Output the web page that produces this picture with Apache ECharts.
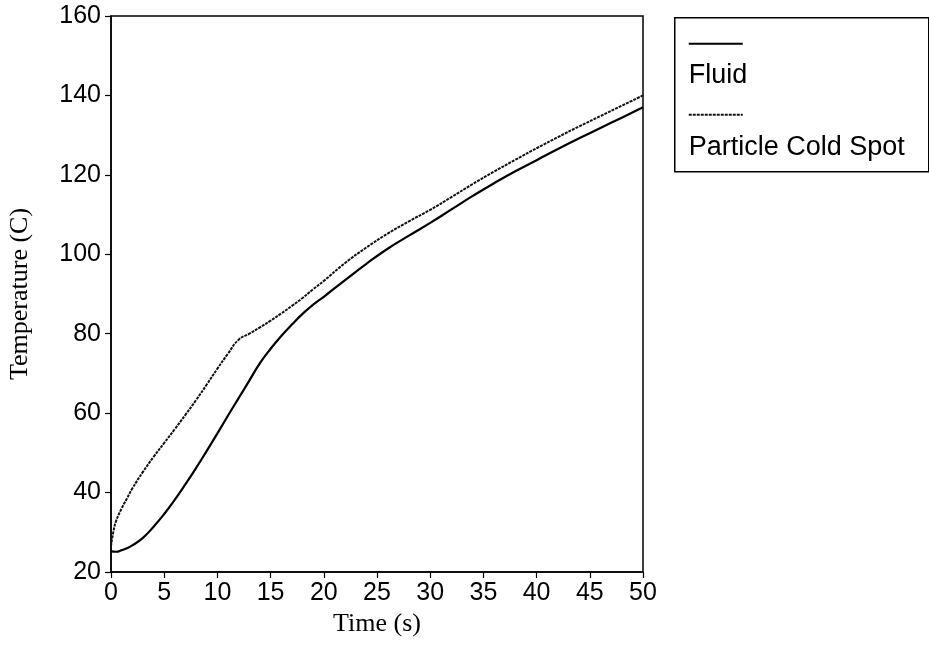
<!DOCTYPE html>
<html>
<head>
<meta charset="utf-8">
<script src="https://cdn.jsdelivr.net/npm/echarts@6/dist/echarts.min.js"></script>
<style>
  html, body { margin: 0; padding: 0; background: #fff; }
  #main { width: 929px; height: 645px; }
</style>
</head>
<body>
<div id="main"></div>
<script>
// values
var fluidTime = [0, 0.5, 1, 1.5, 2, 3, 4, 5, 6, 7, 8, 9, 10, 11, 12, 13, 14, 15, 16, 17, 18, 19, 20, 22, 24, 26, 28, 30, 32, 34, 36, 38, 40, 42, 44, 46, 48, 50];
var fluidTemp = [25.2, 25.1, 25.5, 26.0, 26.7, 28.6, 31.4, 34.6, 38.2, 42.1, 46.2, 50.5, 54.9, 59.4, 63.8, 68.2, 72.6, 76.2, 79.4, 82.3, 85.0, 87.3, 89.3, 93.5, 97.6, 101.4, 104.7, 107.9, 111.3, 114.7, 117.9, 120.9, 123.7, 126.5, 129.2, 131.8, 134.4, 137.0];

var particleTime = [0, 0.25, 0.5, 1, 1.5, 2, 3, 4, 5, 6, 7, 8, 9, 10, 11, 12, 13, 14, 15, 16, 17, 18, 19, 20, 22, 24, 26, 28, 30, 32, 34, 36, 38, 40, 42, 44, 46, 48, 50];
var particleTemp = [26.5, 30.5, 33.0, 36.0, 38.5, 41.0, 45.2, 49.0, 52.5, 56.0, 59.6, 63.3, 67.2, 71.2, 75.0, 78.5, 80.0, 81.6, 83.3, 85.1, 87.0, 89.0, 91.2, 93.3, 97.8, 101.7, 105.2, 108.3, 111.2, 114.4, 117.7, 120.8, 123.8, 126.7, 129.5, 132.2, 134.8, 137.4, 140.0];

var seriesNames = ['Fluid', 'Particle Cold Spot'];

function pairs(xs, ys) {
    return xs.map(function (x, i) { return [x, ys[i]]; });
}

var chart = echarts.init(document.getElementById('main'));

var tickFont = { color: '#000', fontFamily: 'Liberation Sans', fontSize: 25 };

option = {
    backgroundColor: '#fff',
    animation: false,
    grid: {
        left: 111, right: 286, top: 16, bottom: 73,
        outerBoundsMode: 'none',
        containLabel: false,
        show: true,
        borderColor: '#000',
        borderWidth: 1.5
    },
    xAxis: {
        type: 'value',
        min: 0, max: 50, interval: 5,
        name: 'Time (s)',
        nameLocation: 'middle',
        nameGap: 34,
        nameTextStyle: { color: '#000', fontFamily: 'Liberation Serif', fontSize: 26 },
        axisLine: { lineStyle: { color: '#000', width: 1.5 } },
        axisTick: { length: 6, lineStyle: { color: '#000', width: 1.2 } },
        axisLabel: Object.assign({ margin: 9 }, tickFont),
        splitLine: { show: false }
    },
    yAxis: {
        type: 'value',
        min: 20, max: 160, interval: 20,
        name: 'Temperature (C)',
        nameLocation: 'middle',
        nameGap: 78,
        nameTextStyle: { color: '#000', fontFamily: 'Liberation Serif', fontSize: 26 },
        axisLine: { show: true, lineStyle: { color: '#000', width: 1.5 } },
        axisTick: { show: true, length: 6, lineStyle: { color: '#000', width: 1.2 } },
        axisLabel: Object.assign({ margin: 10 }, tickFont),
        splitLine: { show: false }
    },
    series: [
        {
            name: seriesNames[0],
            type: 'line',
            smooth: true,
            showSymbol: false,
            data: pairs(fluidTime, fluidTemp),
            lineStyle: { color: '#000', width: 2.2 }
        },
        {
            name: seriesNames[1],
            type: 'line',
            smooth: true,
            showSymbol: false,
            data: pairs(particleTime, particleTemp),
            lineStyle: { color: '#111', width: 2, type: [3, 1] }
        }
    ],
    graphic: [
        {
            type: 'group',
            left: 674, top: 17,
            children: [
                { type: 'rect', shape: { x: 0, y: 0, width: 254, height: 154 },
                  style: { fill: '#fff', stroke: '#000', lineWidth: 1.5 } },
                { type: 'line', shape: { x1: 14, y1: 26, x2: 68, y2: 26 },
                  style: { stroke: '#000', lineWidth: 2.2 } },
                { type: 'text', x: 14, y: 58,
                  style: { text: seriesNames[0], fill: '#000', font: '27px "Liberation Sans"', verticalAlign: 'middle' } },
                { type: 'line', shape: { x1: 14, y1: 97, x2: 68, y2: 97 },
                  style: { stroke: '#111', lineWidth: 2, lineDash: [3, 1] } },
                { type: 'text', x: 14, y: 130,
                  style: { text: seriesNames[1], fill: '#000', font: '27px "Liberation Sans"', verticalAlign: 'middle' } }
            ]
        }
    ]
};

chart.setOption(option);
</script>
</body>
</html>
